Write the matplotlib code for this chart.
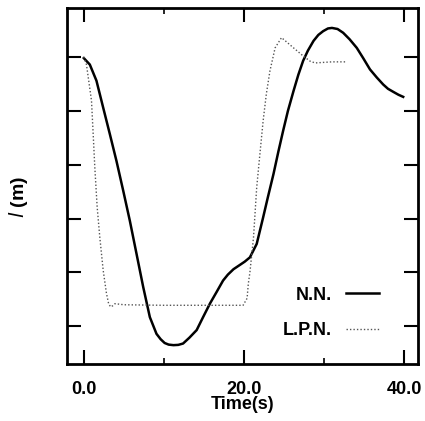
import matplotlib
matplotlib.use("Agg")
import matplotlib.pyplot as plt

# N.N. (solid) curve
nn_t = [0, 0.12, 0.75, 1.58, 2.42, 3.25, 4.08, 4.92, 5.75, 6.58, 7.42, 8.25, 9.08, 9.6,
        10.1, 10.6, 11.2, 11.8, 12.4, 13.2, 14.1, 14.9, 15.75, 16.6, 17.4, 18.0, 18.7,
        19.4, 20.1, 20.75, 21.6, 22.4, 23.0, 23.7, 24.3, 24.9, 25.5, 26.2, 26.8, 27.4,
        28.0, 28.7, 29.3, 29.9, 30.5, 31.0, 31.7, 32.4, 33.2, 34.1, 34.9, 35.75, 36.6,
        37.4, 38.0, 38.7, 39.3, 39.9]
nn_v = [4.98, 4.96, 4.86, 4.56, 4.06, 3.57, 3.07, 2.52, 1.96, 1.35, 0.73, 0.17, -0.14,
        -0.24, -0.31, -0.34, -0.35, -0.345, -0.32, -0.21, -0.07, 0.17, 0.42, 0.64, 0.85,
        0.96, 1.06, 1.13, 1.20, 1.28, 1.53, 2.02, 2.40, 2.83, 3.24, 3.63, 4.00, 4.37,
        4.67, 4.93, 5.12, 5.30, 5.41, 5.48, 5.53, 5.54, 5.52, 5.45, 5.33, 5.17, 4.98,
        4.77, 4.62, 4.49, 4.41, 4.35, 4.30, 4.26]

# L.P.N. (dotted) curve
lpn_t = [0, 0.33, 0.96, 1.17, 1.375, 1.67, 2.0, 2.42, 2.83, 3.1, 3.35, 3.6, 3.9, 5.0,
         10.0, 15.0, 19.9, 20.4, 20.55, 20.75, 21.2, 21.6, 22.0, 22.4, 22.8, 23.25,
         23.9, 24.7, 26.2, 27.4, 28.3, 28.9, 31.0, 32.8]
lpn_v = [5.0, 4.86, 4.19, 3.57, 2.95, 2.21, 1.65, 1.04, 0.61, 0.42, 0.36, 0.38, 0.42,
         0.40, 0.39, 0.39, 0.39, 0.52, 0.79, 1.0, 1.65, 2.58, 3.2, 3.81, 4.31, 4.74,
         5.17, 5.36, 5.17, 5.02, 4.92, 4.89, 4.91, 4.91]

xticks_major = [0, 20, 40]
xtick_labels = ["0.0", "20.0", "40.0"]
xticks_minor = [10, 30]
yticks = [0, 1, 2, 3, 4, 5]

plt.rcParams['font.family'] = ['Liberation Sans', 'DejaVu Sans']

fig = plt.figure(figsize=(4.25, 4.21), dpi=100)
ax = fig.add_axes([67/425, 1 - 364/421, (418-67)/425, (364-8)/421])

ax.plot(nn_t, nn_v, color='black', lw=1.8, label='N.N.')
ax.plot(lpn_t, lpn_v, color='#555555', lw=1.0, ls=(0, (1, 1.5)), label='L.P.N.')

ax.set_xlim(-2.1, 41.75)
ax.set_ylim(-0.70, 5.91)

ax.set_xticks(xticks_major)
ax.set_xticklabels(xtick_labels, fontsize=13, fontweight='bold')
ax.set_xticks(xticks_minor, minor=True)
ax.set_yticks(yticks)
ax.set_yticklabels([])

ax.tick_params(axis='x', which='major', direction='in', length=10, width=1.5,
               top=True, pad=12)
ax.tick_params(axis='x', which='minor', direction='in', length=4, width=1.2, top=True)
ax.tick_params(axis='y', which='major', direction='in', length=10, width=1.5, right=True)
for s in ax.spines.values():
    s.set_linewidth(2)

ax.set_xlabel('Time(s)', fontsize=13, fontweight='bold', labelpad=-1)
ax.set_ylabel(r'$l$ (m)', fontsize=14, fontweight='bold')
ax.yaxis.set_label_coords(-0.105, 0.47)

leg = ax.legend(loc='lower right', bbox_to_anchor=(0.935, 0.025), frameon=False,
                markerfirst=False, handlelength=1.8, handletextpad=0.8,
                prop={'weight': 'bold', 'size': 13}, labelspacing=1.0)

fig.savefig('out.png', dpi=100)
